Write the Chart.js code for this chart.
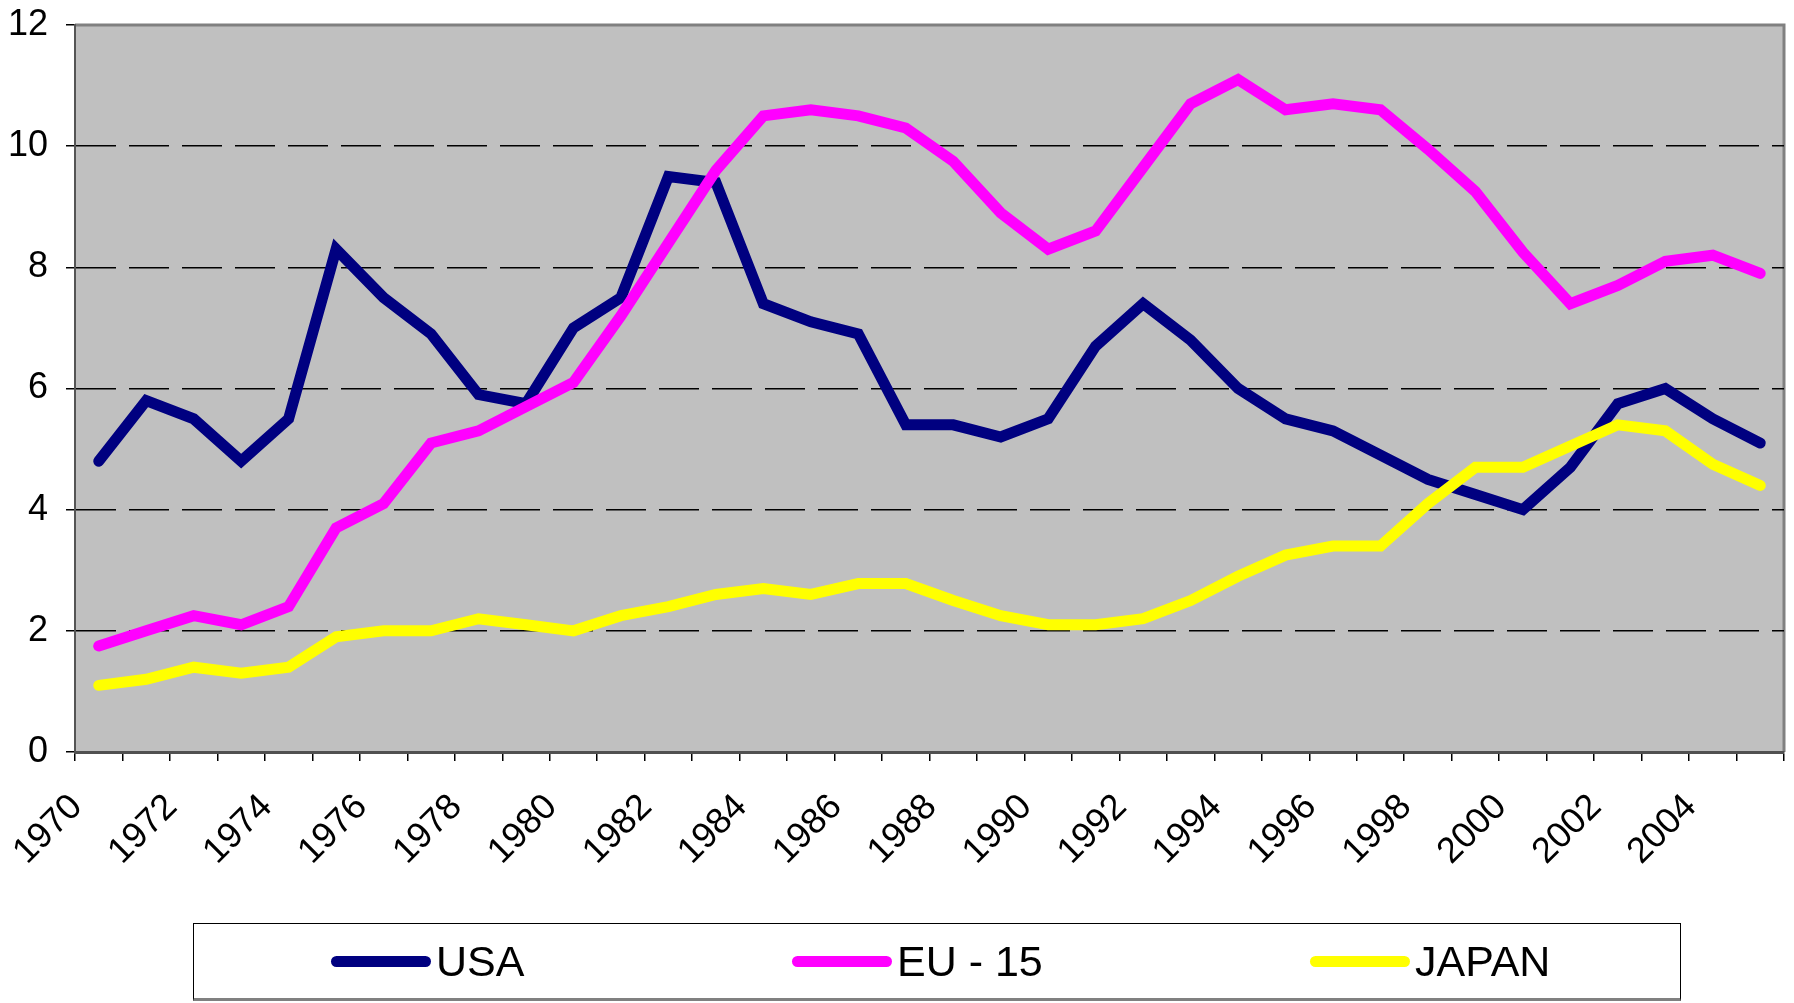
<!DOCTYPE html>
<html>
<head>
<meta charset="utf-8">
<script src="https://cdn.jsdelivr.net/npm/chart.js@4.4.1/dist/chart.umd.min.js"></script>
<style>
  html, body { margin: 0; padding: 0; background: #fff; }
  #wrap { position: relative; width: 1794px; height: 1003px; }
  #legend {
    position: absolute; left: 193px; top: 923px; width: 1488px; height: 78px;
    box-sizing: border-box; border: 1px solid #000; border-bottom: 3px solid #808080;
    font-family: "Liberation Sans", Arial, sans-serif; font-size: 43px; color: #000;
  }
  .item { position: absolute; top: 0; height: 100%; display: flex; align-items: center; }
  .swatch { width: 100px; height: 11px; border-radius: 6px; margin-right: 5px; }
</style>
</head>
<body>
<div id="wrap">
  <canvas id="chart" width="1794" height="1003"></canvas>
  <div id="legend"></div>
</div>
<script>
const years = ["1970", "1971", "1972", "1973", "1974", "1975", "1976", "1977", "1978", "1979",
  "1980", "1981", "1982", "1983", "1984", "1985", "1986", "1987", "1988", "1989",
  "1990", "1991", "1992", "1993", "1994", "1995", "1996", "1997", "1998", "1999",
  "2000", "2001", "2002", "2003", "2004", "2005"];

const usa = [4.8, 5.8, 5.5, 4.8, 5.5, 8.3, 7.5, 6.9, 5.9, 5.75,
  7.0, 7.5, 9.5, 9.4, 7.4, 7.1, 6.9, 5.4, 5.4, 5.2,
  5.5, 6.7, 7.4, 6.8, 6.0, 5.5, 5.3, 4.9, 4.5, 4.25,
  4.0, 4.7, 5.75, 6.0, 5.5, 5.1];

const eu15 = [1.75, 2.0, 2.25, 2.1, 2.4, 3.7, 4.1, 5.1, 5.3, 5.7,
  6.1, 7.2, 8.4, 9.6, 10.5, 10.6, 10.5, 10.3, 9.75, 8.9,
  8.3, 8.6, 9.65, 10.7, 11.1, 10.6, 10.7, 10.6, 9.95, 9.25,
  8.25, 7.4, 7.7, 8.1, 8.2, 7.9];

const japan = [1.1, 1.2, 1.4, 1.3, 1.4, 1.9, 2.0, 2.0, 2.2, 2.1,
  2.0, 2.25, 2.4, 2.6, 2.7, 2.6, 2.78, 2.78, 2.5, 2.25,
  2.1, 2.1, 2.2, 2.5, 2.9, 3.25, 3.4, 3.4, 4.1, 4.7,
  4.7, 5.05, 5.4, 5.3, 4.75, 4.4];

const seriesNames = ["USA", "EU - 15", "JAPAN"];
const seriesColors = ["#000080", "#FF00FF", "#FFFF00"];

const FONT = "'Liberation Sans', Arial, sans-serif";

// grey plot area with the light frame on top and right
const plotFrame = {
  id: "plotFrame",
  beforeDraw(chart) {
    const { ctx, chartArea: a } = chart;
    ctx.save();
    ctx.fillStyle = "#C0C0C0";
    ctx.fillRect(a.left, a.top, a.right - a.left, a.bottom - a.top);
    ctx.strokeStyle = "#808080";
    ctx.lineWidth = 3;
    ctx.beginPath();
    ctx.moveTo(a.left, a.top);
    ctx.lineTo(a.right, a.top);
    ctx.lineTo(a.right, a.bottom);
    ctx.stroke();
    ctx.restore();
  },
};

function makeDataset(label, data, color, order) {
  return {
    label: label,
    data: data,
    borderColor: color,
    backgroundColor: color,
    borderWidth: 11,
    borderCapStyle: "round",
    borderJoinStyle: "miter",
    pointRadius: 0,
    tension: 0,
    order: order,
  };
}

new Chart(document.getElementById("chart"), {
  type: "line",
  data: {
    labels: years,
    datasets: [
      makeDataset(seriesNames[0], usa, seriesColors[0], 3),
      makeDataset(seriesNames[1], eu15, seriesColors[1], 2),
      makeDataset(seriesNames[2], japan, seriesColors[2], 1),
    ],
  },
  plugins: [plotFrame],
  options: {
    responsive: false,
    animation: false,
    layout: { padding: { left: 10, top: 25, right: 10, bottom: 101 } },
    plugins: {
      legend: { display: false },
      tooltip: { enabled: false },
    },
    scales: {
      x: {
        type: "category",
        offset: true,
        grid: {
          offset: true,
          drawOnChartArea: false,
          tickLength: 9,
          tickColor: "#000",
          lineWidth: 1.5,
        },
        border: { color: "#505050", width: 3 },
        ticks: {
          autoSkip: false,
          maxRotation: 45,
          minRotation: 45,
          padding: 25,
          labelOffset: -22,
          color: "#000",
          font: { family: FONT, size: 36 },
          callback: function (value, index) {
            return index % 2 === 0 ? this.getLabelForValue(value) : "";
          },
        },
        afterFit(scale) {
          scale.height = 150;
          scale.paddingLeft = 0;
          scale.paddingRight = 0;
        },
      },
      y: {
        min: 0,
        max: 12,
        ticks: {
          stepSize: 2,
          padding: 18,
          color: "#000",
          font: { family: FONT, size: 36 },
        },
        grid: {
          color: (c) => (c.tick && (c.tick.value === 0 || c.tick.value === 12)) ? "rgba(0,0,0,0)" : "#000",
          lineWidth: 1.5,
          tickLength: 9,
          tickColor: "#000",
          tickBorderDash: [],
        },
        border: { color: "#555", width: 2, dash: [40, 13] },
        afterFit(scale) {
          scale.width = 65;
          scale.paddingTop = 0;
          scale.paddingBottom = 0;
        },
      },
    },
  },
});

// legend as a framed box under the chart
const legendBox = document.getElementById("legend");
const legendLeft = [137, 598, 1116];
seriesNames.forEach((name, i) => {
  const item = document.createElement("div");
  item.className = "item";
  item.style.left = legendLeft[i] + "px";
  const sw = document.createElement("span");
  sw.className = "swatch";
  sw.style.background = seriesColors[i];
  const txt = document.createElement("span");
  txt.textContent = name;
  item.appendChild(sw);
  item.appendChild(txt);
  legendBox.appendChild(item);
});
</script>
</body>
</html>
